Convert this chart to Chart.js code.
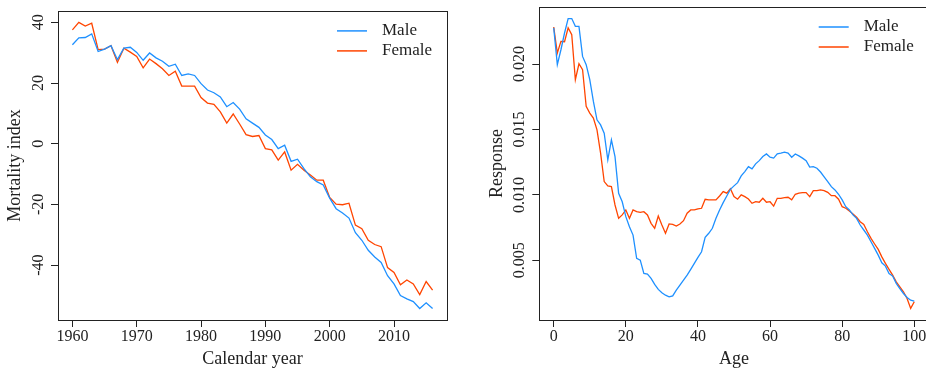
<!DOCTYPE html>
<html lang="en">
<head>
    <meta charset="UTF-8">
    <title>Mortality index and age response</title>
    <script src="https://cdn.jsdelivr.net/npm/chart.js"></script>
    <style>
        html, body {
            margin: 0;
            padding: 0;
            background: #fff;
            overflow: hidden;
        }
        #wrap {
            position: relative;
            width: 926px;
            height: 371px;
            overflow: hidden;
        }
        #leftChart {
            position: absolute;
            left: 0;
            top: 0;
        }
        #rightChart {
            position: absolute;
            left: 463px;
            top: 0;
        }
    </style>
</head>
<body>
    <div id="wrap">
        <canvas id="leftChart" width="463" height="371"></canvas>
        <canvas id="rightChart" width="490" height="371"></canvas>
    </div>

    <script>
        // Left panel: mortality index by calendar year
        const years = [1960, 1961, 1962, 1963, 1964, 1965, 1966, 1967, 1968, 1969,
            1970, 1971, 1972, 1973, 1974, 1975, 1976, 1977, 1978, 1979,
            1980, 1981, 1982, 1983, 1984, 1985, 1986, 1987, 1988, 1989,
            1990, 1991, 1992, 1993, 1994, 1995, 1996, 1997, 1998, 1999,
            2000, 2001, 2002, 2003, 2004, 2005, 2006, 2007, 2008, 2009,
            2010, 2011, 2012, 2013, 2014, 2015, 2016];
        const maleIndex = [32.6, 34.9, 35.0, 36.2, 30.4, 31.2, 32.3, 27.7, 31.5, 31.8,
            30.1, 27.5, 29.9, 28.3, 27.2, 25.5, 26.2, 22.5, 23.0, 22.5,
            19.8, 17.7, 16.8, 15.4, 12.2, 13.6, 11.4, 8.2, 6.8, 5.4,
            2.9, 1.4, -1.6, -0.5, -5.8, -5.1, -8.2, -10.9, -12.5, -13.6,
            -17.9, -21.4, -22.8, -24.5, -29.3, -31.8, -35.1, -37.3, -39.1, -43.5,
            -46.2, -50.0, -51.1, -52.0, -54.3, -52.4, -54.3];
        const femaleIndex = [37.5, 40.0, 38.8, 39.7, 31.0, 31.2, 32.3, 26.8, 31.5, 30.2,
            28.8, 25.0, 27.9, 26.4, 24.7, 22.5, 23.9, 19.0, 19.0, 19.0,
            15.2, 13.4, 13.0, 10.5, 6.8, 9.8, 6.5, 3.0, 2.4, 2.7,
            -1.6, -2.0, -5.4, -2.7, -8.7, -6.8, -8.7, -10.3, -12.0, -12.0,
            -17.7, -19.9, -20.1, -19.6, -26.8, -28.0, -31.8, -33.2, -33.9, -40.8,
            -42.4, -46.5, -44.9, -46.2, -49.7, -45.4, -48.2];
        const yearTicks = [1960, 1970, 1980, 1990, 2000, 2010];
        const indexTicks = [-40, -20, 0, 20, 40];

        // Right panel: response by age
        const ages = [0, 1, 2, 3, 4, 5, 6, 7, 8, 9, 10, 11, 12, 13, 14, 15, 16, 17, 18, 19,
            20, 21, 22, 23, 24, 25, 26, 27, 28, 29, 30, 31, 32, 33, 34, 35, 36, 37, 38, 39,
            40, 41, 42, 43, 44, 45, 46, 47, 48, 49, 50, 51, 52, 53, 54, 55, 56, 57, 58, 59,
            60, 61, 62, 63, 64, 65, 66, 67, 68, 69, 70, 71, 72, 73, 74, 75, 76, 77, 78, 79,
            80, 81, 82, 83, 84, 85, 86, 87, 88, 89, 90, 91, 92, 93, 94, 95, 96, 97, 98, 99, 100];
        const maleResponse = [0.02276, 0.01995, 0.02109, 0.02237, 0.02347, 0.02347, 0.02288, 0.02288, 0.02058, 0.01995,
            0.01880, 0.01714, 0.01574, 0.01535, 0.01472, 0.01268, 0.01421, 0.01293, 0.01013, 0.00948,
            0.00834, 0.00757, 0.00693, 0.00515, 0.00502, 0.00400, 0.00395, 0.00362, 0.00316, 0.00278,
            0.00252, 0.00234, 0.00221, 0.00229, 0.00273, 0.00311, 0.00349, 0.00387, 0.00431, 0.00477,
            0.00523, 0.00566, 0.00676, 0.00707, 0.00745, 0.00821, 0.00885, 0.00941, 0.00992, 0.01043,
            0.01069, 0.01094, 0.01145, 0.01178, 0.01216, 0.01199, 0.01237, 0.01262, 0.01293, 0.01313,
            0.01288, 0.01281, 0.01313, 0.01319, 0.01326, 0.01319, 0.01288, 0.01313, 0.01298, 0.01281,
            0.01262, 0.01212, 0.01216, 0.01204, 0.01175, 0.01138, 0.01102, 0.01063, 0.01038, 0.01005,
            0.00962, 0.00910, 0.00885, 0.00847, 0.00821, 0.00770, 0.00732, 0.00693, 0.00642, 0.00592,
            0.00540, 0.00481, 0.00456, 0.00400, 0.00380, 0.00324, 0.00285, 0.00247, 0.00217, 0.00196, 0.00189];
        const femaleResponse = [0.02283, 0.02084, 0.02173, 0.02170, 0.02276, 0.02224, 0.01880, 0.02002, 0.01956, 0.01676,
            0.01625, 0.01587, 0.01497, 0.01319, 0.01102, 0.01069, 0.01064, 0.00923, 0.00821, 0.00847,
            0.00885, 0.00821, 0.00885, 0.00872, 0.00867, 0.00872, 0.00847, 0.00783, 0.00745, 0.00839,
            0.00770, 0.00707, 0.00778, 0.00775, 0.00762, 0.00778, 0.00803, 0.00860, 0.00885, 0.00885,
            0.00893, 0.00898, 0.00967, 0.00962, 0.00962, 0.00962, 0.00992, 0.01025, 0.01013, 0.01048,
            0.00987, 0.00967, 0.01000, 0.00987, 0.00969, 0.00936, 0.00948, 0.00944, 0.00974, 0.00944,
            0.00948, 0.00915, 0.00974, 0.00974, 0.00979, 0.00982, 0.00962, 0.01005, 0.01013, 0.01018,
            0.01018, 0.00987, 0.01033, 0.01033, 0.01038, 0.01033, 0.01020, 0.00994, 0.00994, 0.00967,
            0.00910, 0.00898, 0.00877, 0.00854, 0.00829, 0.00795, 0.00775, 0.00719, 0.00668, 0.00625,
            0.00584, 0.00527, 0.00477, 0.00431, 0.00387, 0.00336, 0.00298, 0.00260, 0.00209, 0.00133, 0.00184];
        const ageTicks = [0, 20, 40, 60, 80, 100];
        const responseTicks = [0.005, 0.010, 0.015, 0.020];

        const seriesNames = ['Male', 'Female'];
        const maleColor = '#1E90FF';
        const femaleColor = '#FF4500';
        const textColor = '#222';
        const serif = "'Liberation Serif', 'DejaVu Serif', serif";

        // R style range: data range stretched by 4% on each side
        function paddedRange(arrays) {
            const all = [].concat(...arrays);
            const lo = Math.min(...all);
            const hi = Math.max(...all);
            const pad = (hi - lo) * 0.04;
            return {min: lo - pad, max: hi + pad};
        }

        // box around the plot region
        const boxPlugin = {
            id: 'box',
            afterDraw(chart) {
                const {ctx, chartArea} = chart;
                ctx.save();
                ctx.strokeStyle = '#222';
                ctx.lineWidth = 1;
                ctx.strokeRect(Math.round(chartArea.left) + 0.5, Math.round(chartArea.top) + 0.5,
                    Math.round(chartArea.right - chartArea.left), Math.round(chartArea.bottom - chartArea.top));
                ctx.restore();
            }
        };

        // legend drawn inside the plot, top right, no frame
        const insideLegend = {
            id: 'insideLegend',
            afterDraw(chart) {
                const {ctx, chartArea} = chart;
                ctx.save();
                ctx.font = "17px " + serif;
                ctx.textBaseline = 'middle';
                ctx.textAlign = 'left';
                chart.data.datasets.forEach((ds, i) => {
                    const y = chartArea.top + 20 + i * 20;
                    ctx.strokeStyle = ds.borderColor;
                    ctx.lineWidth = 1.5;
                    ctx.beginPath();
                    ctx.moveTo(chartArea.right - 110, y);
                    ctx.lineTo(chartArea.right - 80, y);
                    ctx.stroke();
                    ctx.fillStyle = textColor;
                    ctx.fillText(ds.label, chartArea.right - 65, y);
                });
                ctx.restore();
            }
        };

        function makeChart(canvasId, xs, male, female, opts) {
            const xr = paddedRange([xs]);
            const yr = paddedRange([male, female]);
            return new Chart(document.getElementById(canvasId), {
                type: 'line',
                data: {
                    datasets: [{
                        label: seriesNames[0],
                        data: xs.map((x, i) => ({x: x, y: male[i]})),
                        borderColor: maleColor,
                        borderWidth: 1.3,
                        pointRadius: 0,
                        tension: 0
                    }, {
                        label: seriesNames[1],
                        data: xs.map((x, i) => ({x: x, y: female[i]})),
                        borderColor: femaleColor,
                        borderWidth: 1.3,
                        pointRadius: 0,
                        tension: 0
                    }]
                },
                options: {
                    responsive: false,
                    animation: false,
                    devicePixelRatio: 1,
                    layout: {padding: {left: 0, right: opts.padRight, top: 7, bottom: 0}},
                    plugins: {legend: {display: false}, tooltip: {enabled: false}},
                    scales: {
                        x: {
                            type: 'linear',
                            min: xr.min,
                            max: xr.max,
                            afterBuildTicks: s => { s.ticks = opts.xTicks.map(v => ({value: v})); },
                            afterFit: s => { s.height = 51; },
                            border: {display: false},
                            grid: {drawOnChartArea: false, drawTicks: true, tickLength: 7, color: '#222'},
                            ticks: {
                                font: {family: serif, size: 16},
                                color: textColor,
                                padding: 0,
                                maxRotation: 0,
                                autoSkip: false,
                                callback: v => String(v)
                            },
                            title: {
                                display: true,
                                text: opts.xTitle,
                                font: {family: serif, size: 18},
                                color: textColor,
                                padding: {top: 0, bottom: 1}
                            }
                        },
                        y: {
                            type: 'linear',
                            min: yr.min,
                            max: yr.max,
                            afterBuildTicks: s => { s.ticks = opts.yTicks.map(v => ({value: v})); },
                            afterFit: s => { s.width = opts.yWidth; },
                            border: {display: false},
                            grid: {drawOnChartArea: false, drawTicks: true, tickLength: 7, color: '#222'},
                            ticks: {
                                font: {family: serif, size: 16},
                                color: textColor,
                                minRotation: 90,
                                maxRotation: 90,
                                crossAlign: 'center',
                                padding: opts.yTickPad,
                                autoSkip: false,
                                callback: opts.yFormat
                            },
                            title: {
                                display: true,
                                text: opts.yTitle,
                                font: {family: serif, size: 18},
                                color: textColor,
                                padding: {top: opts.yTitlePad, bottom: 0}
                            }
                        }
                    }
                },
                plugins: [boxPlugin, insideLegend]
            });
        }

        const leftChart = makeChart('leftChart', years, maleIndex, femaleIndex, {
            padRight: 16,
            xTicks: yearTicks,
            yTicks: indexTicks,
            yWidth: 58,
            yTickPad: 1.3,
            yTitlePad: 4.2,
            xTitle: 'Calendar year',
            yTitle: 'Mortality index',
            yFormat: v => String(v)
        });

        const rightChart = makeChart('rightChart', ages, maleResponse, femaleResponse, {
            padRight: 24.3,
            xTicks: ageTicks,
            yTicks: responseTicks,
            yWidth: 76.3,
            yTickPad: -5.7,
            yTitlePad: 23.2,
            xTitle: 'Age',
            yTitle: 'Response',
            yFormat: v => v.toFixed(3)
        });
    </script>
</body>
</html>
